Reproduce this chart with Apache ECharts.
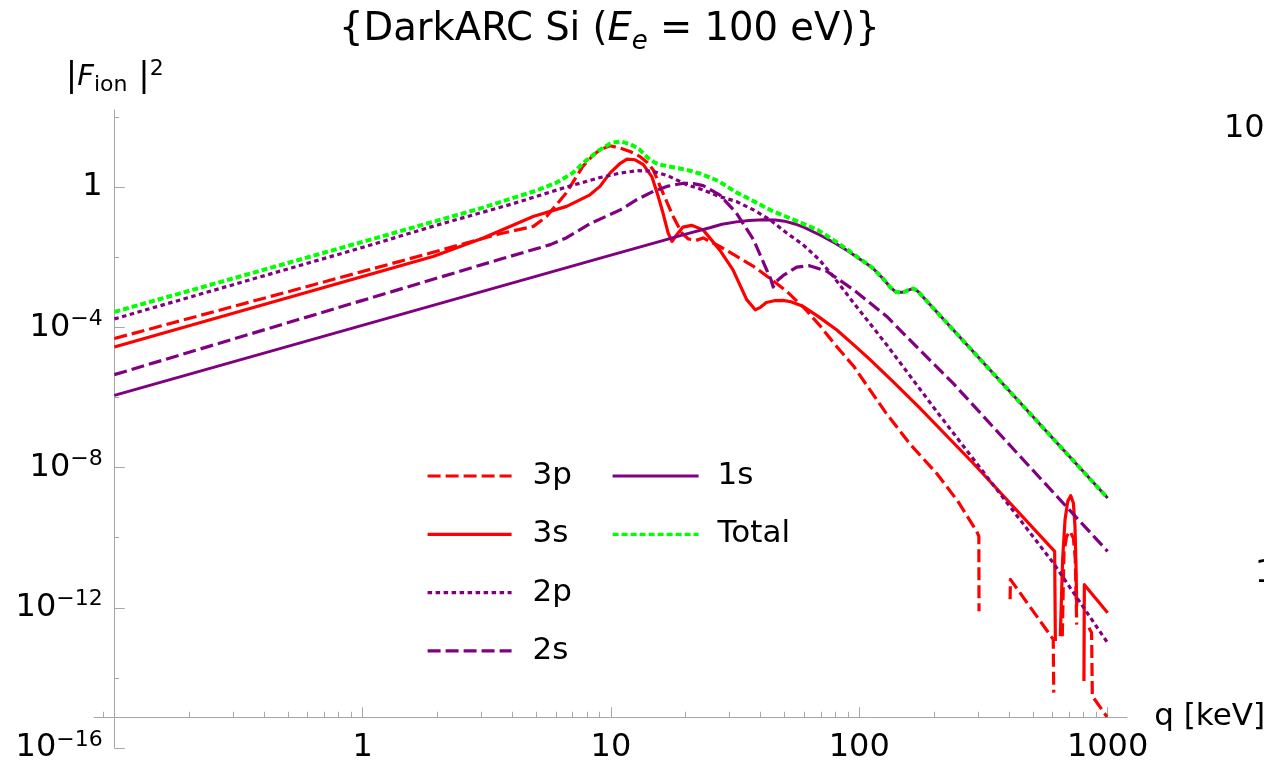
<!DOCTYPE html>
<html>
<head>
<meta charset="utf-8">
<script src="https://cdn.jsdelivr.net/npm/echarts@6/dist/echarts.min.js"></script>
<style>
  html, body { margin: 0; padding: 0; background: #fff; }
  #chart { width: 1264px; height: 768px; }
</style>
</head>
<body>
<div id="chart"></div>
<script>
// q [keV] against |F_ion|^2 ('-' = gap where the curve vanishes)
const q3p = [0.1, 0.41, 1.92, 3.57, 4.87, 5.5, 6.6, 7.7, 8.4, 9.0, 9.9, 10.9, 12.0, 13.1, 14.0, 14.8, 16.2, 17.8, 19.3, 20.5, 22.0, 23.5, 27.4, 32, 37.5, 44, 51.1, 60, 69.4, 80, 94.9, 128, 160, 204, 250, 297, 303, 303.5, 303.6, 405, 406, 604, 607, 607.5, 657, 667, 684, 706, 728, 741, 751, 752, 841, 862, 868, 994];
const f3p = [4.79e-5, 7.08e-4, 1.38e-2, 4.68e-2, 7.59e-2, 0.145, 0.676, 3.89, 7.59, 11.5, 15.1, 12.9, 10.2, 7.41, 5.01, 3.09, 0.676, 0.145, 4.90e-2, 3.31e-2, 3.02e-2, 3.55e-2, 2.04e-2, 1.07e-2, 5.50e-3, 2.40e-3, 1.05e-3, 3.55e-4, 1.12e-4, 3.16e-5, 7.76e-6, 3.63e-7, 4.68e-8, 7.08e-9, 1.07e-9, 1.51e-10, 1.10e-10, 7.94e-13, '-', 1.74e-12, 6.46e-12, 1.26e-13, 3.80e-15, '-', 1.55e-13, 3.72e-11, 1.10e-10, 1.51e-10, 9.77e-11, 2.40e-11, 3.31e-13, '-', 2.69e-13, 1.95e-13, 3.02e-15, 7.76e-16];

const q3s = [0.1, 1.92, 3.06, 4.86, 6.63, 8.23, 9.03, 9.9, 10.9, 11.6, 12.5, 13.5, 14.6, 15.5, 16.2, 17.0, 17.6, 18.4, 19.5, 21.1, 23.5, 27.4, 31, 35.2, 38.1, 40, 42.2, 45.5, 49.2, 53, 59.3, 68, 81, 95, 110.5, 140, 175, 287, 612, 616, 617, 645, 659, 674, 691, 710, 728, 739, 746, 751, 752, 803, 806, 1000];
const f3s = [2.75e-5, 1.05e-2, 3.55e-2, 0.145, 0.282, 0.603, 1.05, 2.51, 4.79, 6.31, 6.03, 4.37, 2.00, 0.537, 0.182, 4.90e-2, 2.82e-2, 4.37e-2, 7.24e-2, 8.13e-2, 6.03e-2, 1.62e-2, 4.37e-3, 6.17e-4, 3.16e-4, 3.72e-4, 5.13e-4, 5.75e-4, 5.89e-4, 5.37e-4, 3.98e-4, 2.09e-4, 8.51e-5, 3.16e-5, 1.20e-5, 2.40e-6, 5.01e-7, 1.35e-8, 4.07e-11, 1.12e-13, '-', 1.55e-13, 2.40e-11, 3.31e-10, 1.10e-9, 1.58e-9, 9.77e-10, 2.09e-10, 1.51e-11, 1.10e-12, '-', 8.13e-15, 4.57e-12, 7.24e-13];

const q2p = [0.1, 1, 2, 4, 6.6, 9, 10.9, 12.7, 14.8, 17, 20.2, 23.5, 27.4, 32, 37.5, 43.7, 51, 59.3, 69, 78.6, 95, 129, 204, 325, 604, 1000];
const f2p = [1.74e-4, 1.91e-2, 8.32e-2, 0.331, 1.00, 1.86, 2.51, 2.95, 2.82, 2.09, 1.17, 0.832, 0.537, 0.389, 0.224, 0.117, 4.90e-2, 2.29e-2, 8.51e-3, 2.82e-3, 4.90e-4, 3.16e-5, 4.17e-7, 5.75e-9, 1.91e-11, 1.0e-13];

const q2s = [0.1, 1, 3.57, 5.7, 6.6, 8.3, 10.9, 12.7, 14.8, 17, 19.6, 21.5, 23.5, 27.4, 32, 37.5, 42, 44, 45, 46.5, 49.4, 56, 63, 74, 95, 129, 175, 239, 444, 1000];
const f2s = [4.47e-6, 5.89e-4, 8.71e-3, 2.29e-2, 3.55e-2, 9.33e-2, 0.224, 0.437, 0.759, 1.07, 1.29, 1.26, 1.10, 0.603, 0.182, 3.16e-2, 5.01e-3, 2.40e-3, 1.41e-3, 2.09e-3, 3.02e-3, 5.25e-3, 5.75e-3, 3.98e-3, 1.17e-3, 2.04e-4, 2.29e-5, 2.51e-6, 2.09e-8, 4.07e-11];

const q1s = [0.1, 10, 15, 20, 25, 28, 32, 36, 41, 46, 50, 55, 60, 70, 80, 90, 100, 113, 125, 133, 141, 150, 158, 165, 172, 1000];
const f1s = [1.15e-6, 1.15e-2, 2.57e-2, 4.57e-2, 6.92e-2, 8.71e-2, 0.102, 0.112, 0.117, 0.115, 0.107, 8.91e-2, 7.08e-2, 4.17e-2, 2.51e-2, 1.51e-2, 9.12e-3, 5.01e-3, 2.40e-3, 1.41e-3, 1.00e-3, 1.00e-3, 1.15e-3, 1.29e-3, 1.07e-3, 1.35e-9];

const qTot = [0.1, 1, 3, 5, 6, 7, 8, 9, 10, 11, 12, 13, 14, 15, 16, 18, 20, 23, 27, 32, 38, 44, 54, 68, 80, 90, 100, 113, 125, 133, 141, 150, 158, 165, 172, 1000];
const fTot = [2.75e-4, 2.75e-2, 0.251, 0.794, 1.32, 2.51, 6.03, 11.5, 18.2, 20.0, 16.6, 12.0, 7.08, 5.01, 4.27, 3.63, 3.16, 2.40, 1.51, 0.708, 0.380, 0.219, 0.120, 6.03e-2, 2.88e-2, 1.62e-2, 9.33e-3, 5.01e-3, 2.40e-3, 1.41e-3, 1.00e-3, 1.00e-3, 1.15e-3, 1.29e-3, 1.07e-3, 1.35e-9];

// ticks
const xMajor = [0.1, 1, 10, 100, 1000];
const xLabels = [1, 10, 100, 1000];
const xMinor = [0.09, 0.2, 0.3, 0.4, 0.5, 0.6, 0.7, 0.8, 0.9, 2, 3, 4, 5, 6, 7, 8, 9,
                20, 30, 40, 50, 60, 70, 80, 90, 200, 300, 400, 500, 600, 700, 800, 900];
const yMajor = [1, 1e-4, 1e-8, 1e-12, 1e-16];
const yMinor = [1e2, 1e-2, 1e-6, 1e-10, 1e-14];

const RED = '#ff0000', PURPLE = '#800080', GREEN = '#00ff00';
const FONT = 'DejaVu Sans';
const AXIS = '#a6a6a6';

const curves = [
  { name: '3p', q: q3p, f: f3p, color: RED, type: [13, 5], width: 3.2 },
  { name: '3s', q: q3s, f: f3s, color: RED, type: 'solid', width: 3.2 },
  { name: '2p', q: q2p, f: f2p, color: PURPLE, type: [4.5, 3.5], width: 3.2 },
  { name: '2s', q: q2s, f: f2s, color: PURPLE, type: [13, 5], width: 3.2 },
  { name: '1s', q: q1s, f: f1s, color: PURPLE, type: 'solid', width: 3 },
  { name: 'Total', q: qTot, f: fTot, color: GREEN, type: [6, 3], width: 4 }
];

const chart = echarts.init(document.getElementById('chart'));

// axis line runs a little past the 0.1 ... 1000 data range
const X_MIN = 0.0828, X_MAX = 1197;
const Y_MIN = 1e-16, Y_MAX = 158.5;

const xBase = {
  type: 'log', logBase: 10, min: X_MIN, max: X_MAX,
  position: 'bottom', offset: -30.7,
  splitLine: { show: false }, minorTick: { show: false }
};
const yBase = {
  type: 'log', logBase: 10, min: Y_MIN, max: Y_MAX,
  position: 'left', offset: -20.7,
  splitLine: { show: false }, minorTick: { show: false }
};

const legendCommon = {
  orient: 'vertical', top: 455,
  itemHeight: 14, itemGap: 26.3,
  itemStyle: { opacity: 0 },
  lineStyle: { width: 3.2 },
  textStyle: { fontFamily: FONT, fontSize: 31, lineHeight: 32, color: '#000', padding: [0, 0, 0, 16] }
};

const option = {
  animation: false,
  backgroundColor: '#fff',
  textStyle: { fontFamily: FONT },
  title: {
    text: '{t|{DarkARC Si (}{i|E}{sub|e}{t| = 100 eV)}}',
    left: 334, top: 0,
    textStyle: {
      fontFamily: FONT, fontSize: 38.5, fontWeight: 'normal', color: '#000',
      rich: {
        t: { fontFamily: FONT, fontSize: 38.5, lineHeight: 50, color: '#000' },
        i: { fontFamily: FONT, fontSize: 38.5, lineHeight: 50, fontStyle: 'italic', color: '#000' },
        sub: { fontFamily: FONT, fontSize: 26, lineHeight: 28, fontStyle: 'italic', verticalAlign: 'bottom', color: '#000' }
      }
    }
  },
  grid: { left: 94, right: 137, top: 110, bottom: 20, containLabel: false, outerBoundsMode: 'none' },
  legend: [
    Object.assign({}, legendCommon, { data: ['3p', '3s', '2p', '2s'], left: 421, itemWidth: 84 }),
    Object.assign({}, legendCommon, { data: ['1s', 'Total'], left: 606, itemWidth: 86,
      textStyle: Object.assign({}, legendCommon.textStyle, { padding: [0, 0, 0, 14] }) })
  ],
  xAxis: [
    Object.assign({}, xBase, {
      axisLine: { show: true, lineStyle: { color: AXIS, width: 1 } },
      axisTick: { show: true, inside: true, length: 10, customValues: xMajor, lineStyle: { color: AXIS } },
      axisLabel: {
        show: true, customValues: xLabels, margin: 14,
        fontFamily: FONT, fontSize: 32, color: '#000',
        formatter: v => String(Math.round(v))
      },
      name: 'q [keV]', nameLocation: 'end', nameGap: 6,
      nameTextStyle: { fontFamily: FONT, fontSize: 31, color: '#000', verticalAlign: 'middle', padding: [6, 0, 0, 0] }
    }),
    Object.assign({}, xBase, {
      axisLine: { show: false },
      axisTick: { show: true, inside: true, length: 5.5, customValues: xMinor, lineStyle: { color: AXIS } },
      axisLabel: { show: false }
    })
  ],
  yAxis: [
    Object.assign({}, yBase, {
      axisLine: { show: true, lineStyle: { color: AXIS, width: 1 } },
      axisTick: { show: true, inside: true, length: 10, customValues: yMajor, lineStyle: { color: AXIS } },
      axisLabel: {
        show: true, customValues: yMajor, margin: 12,
        formatter: v => {
          const e = Math.round(Math.log10(v));
          return e === 0 ? '{b|1}' : '{b|10}{s|' + (e < 0 ? '\u2212' : '') + Math.abs(e) + '}';
        },
        rich: {
          b: { fontFamily: FONT, fontSize: 32, lineHeight: 38, color: '#000' },
          s: { fontFamily: FONT, fontSize: 22, lineHeight: 22, verticalAlign: 'top', color: '#000' }
        }
      },
      name: '{p||}{f|F}{sub|ion}{p| |}{sup|2}',
      nameLocation: 'end', nameGap: 14,
      nameTextStyle: {
        align: 'center', verticalAlign: 'bottom',
        rich: {
          p: { fontFamily: FONT, fontSize: 34, lineHeight: 38, color: '#000' },
          f: { fontFamily: FONT, fontSize: 29, lineHeight: 38, fontStyle: 'italic', color: '#000' },
          sub: { fontFamily: FONT, fontSize: 22, lineHeight: 24, verticalAlign: 'bottom', color: '#000' },
          sup: { fontFamily: FONT, fontSize: 22, lineHeight: 22, verticalAlign: 'top', color: '#000' }
        }
      }
    }),
    Object.assign({}, yBase, {
      axisLine: { show: false },
      axisTick: { show: true, inside: true, length: 4.5, customValues: yMinor, lineStyle: { color: AXIS } },
      axisLabel: { show: false }
    })
  ],
  graphic: [
    // labels of a neighbouring panel, cut off at the right edge
    { type: 'text', left: 1224, top: 113, style: { text: '10', font: '32px "DejaVu Sans"', fill: '#000' } },
    { type: 'text', left: 1255, top: 558, style: { text: '1', font: '32px "DejaVu Sans"', fill: '#000' } }
  ],
  series: curves.map((c, i) => ({
    name: c.name,
    type: 'line',
    xAxisIndex: 0, yAxisIndex: 0,
    data: c.q.map((x, k) => [x, c.f[k]]),
    symbol: 'none', showSymbol: false,
    smooth: false,
    connectNulls: false,
    clip: true,
    z: 2 + i,
    itemStyle: { color: c.color },
    lineStyle: { color: c.color, width: c.width, type: c.type, cap: 'butt', join: 'round' },
    emphasis: { disabled: true }
  }))
};

chart.setOption(option);
</script>
</body>
</html>
